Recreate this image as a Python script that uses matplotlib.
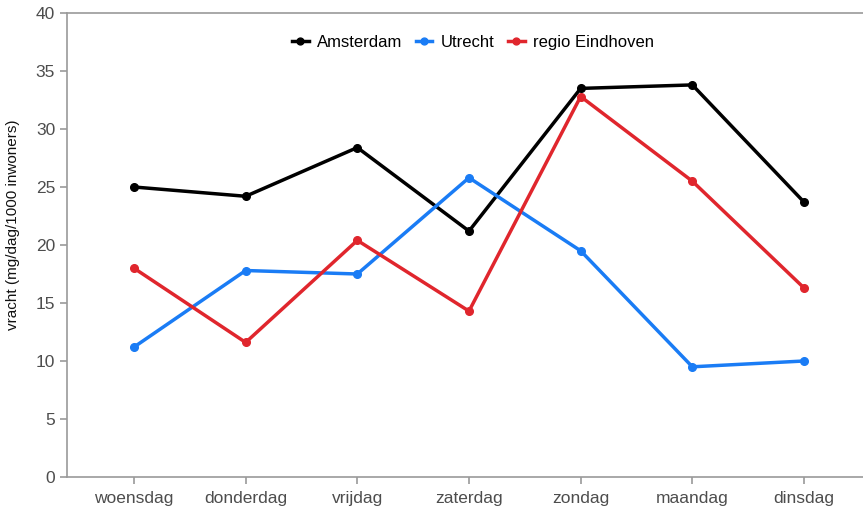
import matplotlib
matplotlib.use("Agg")
import matplotlib.pyplot as plt

plt.rcParams["font.family"] = ["Liberation Sans", "DejaVu Sans"]

days = ["woensdag", "donderdag", "vrijdag", "zaterdag", "zondag", "maandag", "dinsdag"]
amsterdam = [25.0, 24.2, 28.4, 21.2, 33.5, 33.8, 23.7]
utrecht = [11.2, 17.8, 17.5, 25.8, 19.5, 9.5, 10.0]
eindhoven = [18.0, 11.6, 20.4, 14.3, 32.8, 25.5, 16.3]

W, H = 863, 508
fig = plt.figure(figsize=(W / 100, H / 100), dpi=100)
# axes: left spine at x=67, bottom at y=477, top at y=13; x=-0.6..6.6
ax = fig.add_axes([67 / W, (H - 477) / H, (871 - 67) / W, (477 - 13) / H])

x = list(range(len(days)))
series = [("Amsterdam", amsterdam, "#000000"),
          ("Utrecht", utrecht, "#1a7cf5"),
          ("regio Eindhoven", eindhoven, "#e0262d")]
for name, vals, col in series:
    ax.plot(x, vals, color=col, lw=2.5, marker="o", ms=5.5, label=name,
            solid_joinstyle="round")

ax.set_xlim(-0.6, 6.6)
ax.set_ylim(0, 40)
ax.set_yticks(range(0, 41, 5))
ax.set_xticks(x)
ax.set_xticklabels(days)

spine_col = "#9a9a9a"
for s in ["left", "bottom", "top"]:
    ax.spines[s].set_color(spine_col)
    ax.spines[s].set_linewidth(1.2)
ax.spines["right"].set_visible(False)
ax.tick_params(axis="both", colors=spine_col, labelcolor="#4d4d4d",
               labelsize=12.5, length=5, width=1.2, direction="out")
ax.tick_params(axis="x", pad=5)
ax.set_ylabel("vracht (mg/dag/1000 inwoners)", fontsize=11, color="#111111")
ax.yaxis.set_label_coords(-0.059, 0.543)

ax.legend(loc="upper center", bbox_to_anchor=(0.505, 0.985), ncol=3,
          frameon=False, fontsize=12, handlelength=1.0, handletextpad=0.5,
          columnspacing=0.8, markerscale=0.9)

fig.savefig("out.png", dpi=100)
